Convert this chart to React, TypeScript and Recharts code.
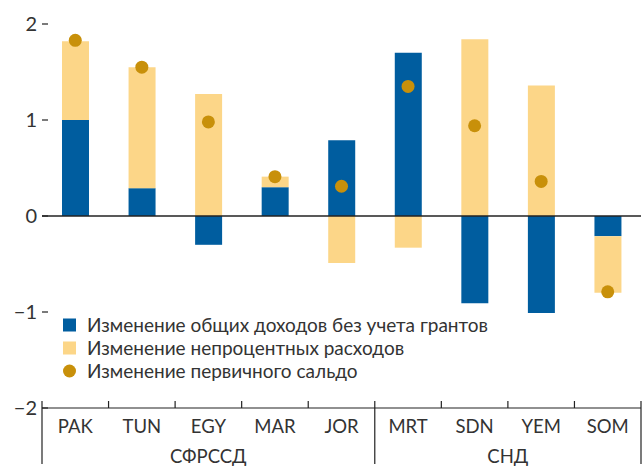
import React from 'react';
import { ComposedChart, Bar, Line, XAxis, YAxis, ReferenceLine } from 'recharts';

const countries = ['PAK', 'TUN', 'EGY', 'MAR', 'JOR', 'MRT', 'SDN', 'YEM', 'SOM'];
const revenueChange = [1.0, 0.29, -0.3, 0.3, 0.79, 1.7, -0.91, -1.01, -0.21];
const spendingChange = [0.82, 1.26, 1.27, 0.11, -0.49, -0.33, 1.84, 1.36, -0.59];
const balanceChange = [1.83, 1.55, 0.98, 0.41, 0.31, 1.35, 0.94, 0.36, -0.79];
const groups = [
  { name: 'СФРССД', count: 5 },
  { name: 'СНД', count: 4 },
];
const yTicks = [-2, -1, 0, 1, 2];

const seriesNames = {
  revenue: 'Изменение общих доходов без учета грантов',
  spending: 'Изменение непроцентных расходов',
  balance: 'Изменение первичного сальдо',
};

const BLUE = '#005d9f';
const YELLOW = '#fcd688';
const GOLD = '#c8900a';
const INK = '#222';
const FONT = 'Lato, "Noto Sans", sans-serif';

const data = countries.map((c, i) => ({
  country: c,
  revenue: revenueChange[i],
  spending: spendingChange[i],
  balance: balanceChange[i],
}));

// where each group starts / ends (in category index)
const groupEdges = groups.reduce<number[]>((acc, g) => [...acc, acc[acc.length - 1] + g.count], [0]);

const fmt = (v: number) => (v < 0 ? '\u2212' + Math.abs(v) : String(v));

const LeftTick = (props: any) => {
  const { x, y, payload } = props;
  return (
    <g>
      <line x1={x} x2={x + 6} y1={y} y2={y} stroke={INK} strokeWidth={1.2} />
      <text x={x - 5} y={y} dy={7} textAnchor="end" fontSize={20} fill="#333" fontFamily={FONT}>
        {fmt(payload.value)}
      </text>
    </g>
  );
};

const RightTick = (props: any) => {
  const { x, y } = props;
  return <line x1={x - 6} x2={x} y1={y} y2={y} stroke={INK} strokeWidth={1.2} />;
};

const CategoryTick = (props: any) => {
  const { x, y, payload, index, width, visibleTicksCount } = props;
  const bw = width / visibleTicksCount;
  const left = x - bw / 2;
  const isGroupEdge = groupEdges.includes(index);
  const isLast = index === visibleTicksCount - 1;
  const gi = groups.findIndex((_, k) => groupEdges[k] === index);
  let groupLabel = null;
  if (gi >= 0) {
    const cx = left + (groups[gi].count * bw) / 2;
    groupLabel = (
      <text x={cx} y={y + 55} textAnchor="middle" fontSize={18.5} fill="#333" fontFamily={FONT}>
        {groups[gi].name}
      </text>
    );
  }
  return (
    <g>
      <line x1={left} x2={left} y1={y - 7} y2={isGroupEdge ? y + 56 : y} stroke={INK} strokeWidth={1.2} />
      {isLast && (
        <line x1={x + bw / 2} x2={x + bw / 2} y1={y - 7} y2={y + 56} stroke={INK} strokeWidth={1.2} />
      )}
      <text x={x} y={y + 25} textAnchor="middle" fontSize={18.5} fill="#333" fontFamily={FONT}>
        {payload.value}
      </text>
      {groupLabel}
    </g>
  );
};

const LegendBox = () => {
  const rows = [
    { key: 'revenue', color: BLUE, shape: 'square' },
    { key: 'spending', color: YELLOW, shape: 'square' },
    { key: 'balance', color: GOLD, shape: 'circle' },
  ];
  return (
    <svg width={450} height={72} style={{ position: 'absolute', left: 63, top: 314 }}>
      {rows.map((r, i) => (
        <g key={r.key} transform={`translate(0, ${i * 23 + 11})`}>
          {r.shape === 'square' ? (
            <rect x={0} y={-6.5} width={13} height={13} fill={r.color} />
          ) : (
            <circle cx={6.5} cy={0} r={6.5} fill={r.color} />
          )}
          <text x={24} y={0} dy={6.5} fontSize={19} fill="#333" fontFamily={FONT}>
            {seriesNames[r.key as keyof typeof seriesNames]}
          </text>
        </g>
      ))}
    </svg>
  );
};

export default function App() {
  return (
    <div style={{ position: 'absolute', left: 0, top: 0, width: 642, height: 470, background: '#fff' }}>
      <ComposedChart
        width={642}
        height={470}
        data={data}
        stackOffset="sign"
        margin={{ top: 24, right: 1, bottom: 0, left: 0 }}
      >
        <XAxis
          dataKey="country"
          height={62}
          tickLine={false}
          tickSize={0}
          tickMargin={0}
          axisLine={{ stroke: INK, strokeWidth: 1.2 }}
          tick={<CategoryTick />}
          interval={0}
        />
        <YAxis
          yAxisId="left"
          width={42}
          domain={[-2, 2]}
          ticks={yTicks}
          tickLine={false}
          tickSize={0}
          tickMargin={0}
          axisLine={false}
          tick={<LeftTick />}
          allowDataOverflow
        />
        <YAxis
          yAxisId="right"
          orientation="right"
          width={0}
          domain={[-2, 2]}
          ticks={yTicks}
          tickLine={false}
          tickSize={0}
          tickMargin={0}
          axisLine={false}
          tick={<RightTick />}
        />
        <Bar yAxisId="left" dataKey="revenue" name={seriesNames.revenue} stackId="s" fill={BLUE} barSize={27} isAnimationActive={false} />
        <Bar yAxisId="left" dataKey="spending" name={seriesNames.spending} stackId="s" fill={YELLOW} barSize={27} isAnimationActive={false} />
        <ReferenceLine yAxisId="left" y={0} stroke={INK} strokeWidth={1.5} />
        <Line
          yAxisId="left"
          dataKey="balance"
          name={seriesNames.balance}
          stroke="none"
          dot={{ r: 6.5, fill: GOLD, stroke: 'none' }}
          activeDot={false}
          isAnimationActive={false}
        />
      </ComposedChart>
      <LegendBox />
    </div>
  );
}
